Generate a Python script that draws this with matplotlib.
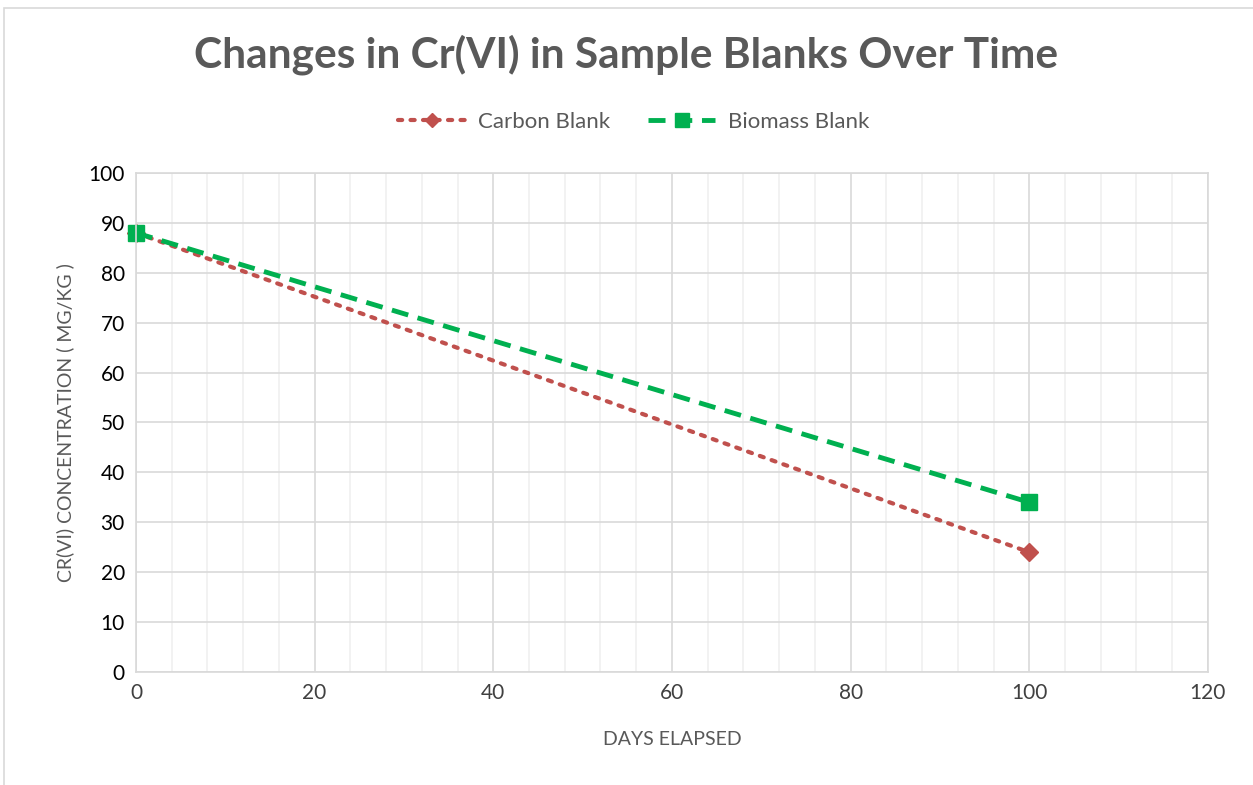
import matplotlib
matplotlib.use("Agg")
from matplotlib import pyplot as plt
from matplotlib.ticker import MultipleLocator
from matplotlib.patches import Rectangle

days = [0, 100]
carbon_blank = [88, 24]
biomass_blank = [88, 34]

plt.rcParams['font.family'] = ['Lato', 'DejaVu Sans']

fig = plt.figure(figsize=(12.53, 7.85), dpi=100)
fig.patches.append(Rectangle((0.003, -0.01), 1.0, 1.0, transform=fig.transFigure,
                             fill=False, edgecolor='#d9d9d9', linewidth=1.2))
ax = fig.add_axes([0.1085, 0.144, 0.8555, 0.6356])

ax.plot(days, carbon_blank, color='#c0504d', linestyle=(0, (1, 2)), linewidth=3,
        marker='D', markersize=9, label='Carbon Blank', dash_capstyle='round', clip_on=False)
ax.plot(days, biomass_blank, color='#00b050', linestyle=(0, (3.5, 2)), linewidth=3.5,
        marker='s', markersize=12, label='Biomass Blank', clip_on=False)

ax.set_xlim(0, 120)
ax.set_ylim(0, 100)
ax.xaxis.set_major_locator(MultipleLocator(20))
ax.xaxis.set_minor_locator(MultipleLocator(4))
ax.yaxis.set_major_locator(MultipleLocator(10))
ax.grid(True, which='major', color='#d9d9d9', linewidth=1.2)
ax.grid(True, which='minor', axis='x', color='#f0f0f0', linewidth=1.2)
ax.set_axisbelow(True)
for s in ax.spines.values():
    s.set_color('#d9d9d9')
    s.set_linewidth(1.2)
ax.tick_params(which='both', length=0, labelsize=15, colors='#404040', pad=8)
ax.tick_params(axis='y', labelcolor='#000000')

ax.set_xlabel('DAYS ELAPSED', fontsize=14, color='#595959', labelpad=20)
ax.set_ylabel('CR(VI) CONCENTRATION ( MG/KG )', fontsize=14, color='#595959', labelpad=10)

fig.text(0.5, 0.93, 'Changes in Cr(VI) in Sample Blanks Over Time', ha='center', va='center',
         fontsize=30.5, fontweight='bold', color='#595959')
leg = fig.legend(loc='center', bbox_to_anchor=(0.506, 0.845), ncol=2, frameon=False,
                 fontsize=16, labelcolor='#595959', handlelength=3.0, handletextpad=0.6,
                 columnspacing=1.7, markerscale=0.8)

fig.savefig('out.png', dpi=100)
